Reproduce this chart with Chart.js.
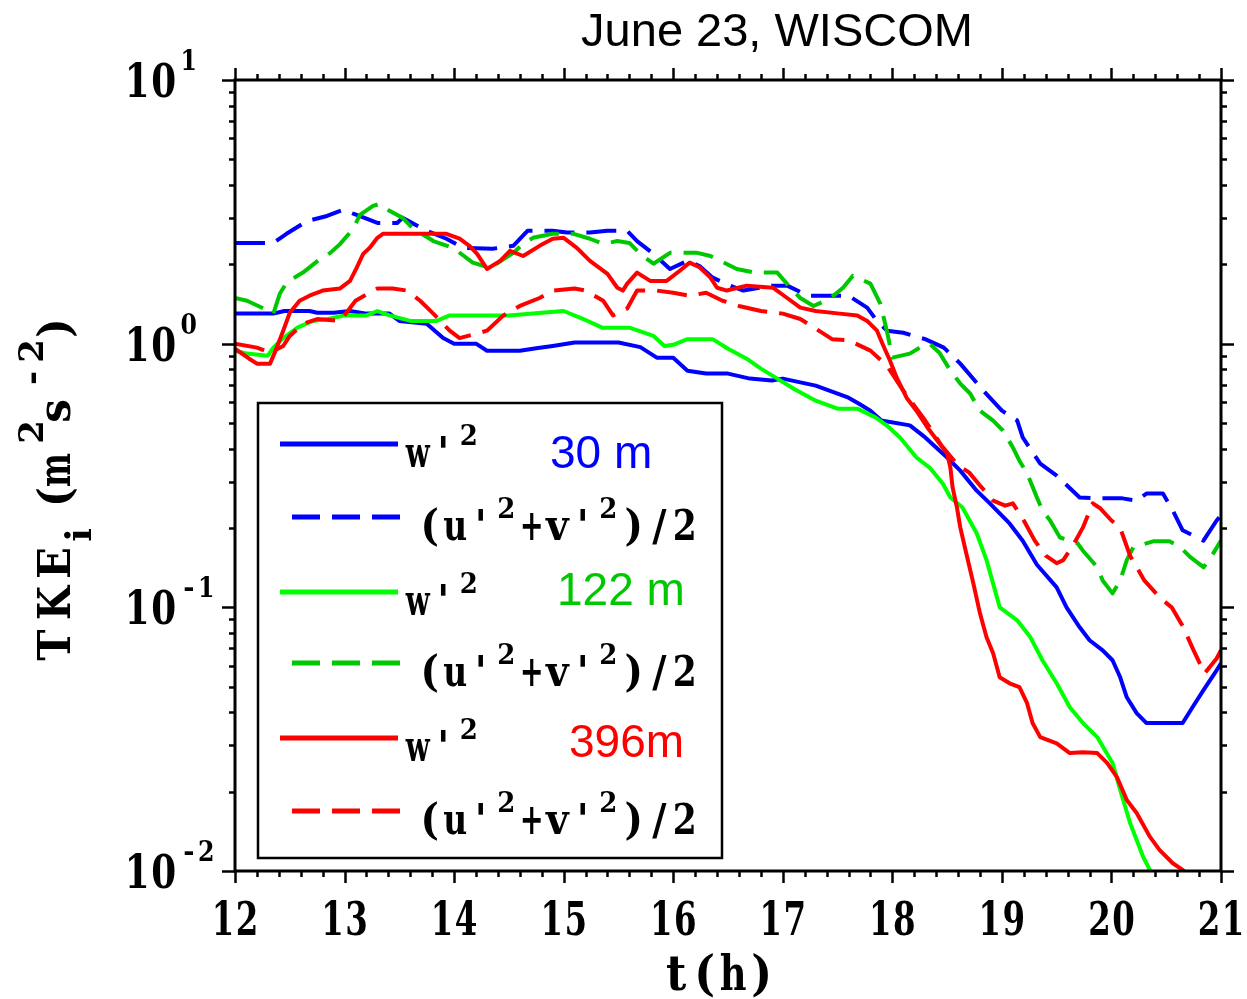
<!DOCTYPE html>
<html><head><meta charset="utf-8">
<script src="https://cdn.jsdelivr.net/npm/chart.js@4/dist/chart.umd.min.js"></script>
<style>html,body{margin:0;padding:0;background:#fff;}#wrap{width:1247px;height:999px;}</style>
</head><body><div id="wrap"><canvas id="c" width="1247" height="999"></canvas></div>
<script>
// ---- data (t in hours, TKE components in m^2 s^-2) ----
const t_w30 = [12.0,12.35,12.45,12.68,12.75,12.9,13.05,13.2,13.41,13.5,13.75,13.9,14.0,14.2,14.3,14.6,14.75,14.9,15.1,15.5,15.7,15.85,16.0,16.13,16.3,16.5,16.7,16.9,17.0,17.3,17.6,17.7,17.8,17.9,18.16,18.3,18.5,18.62,18.77,18.89,19.07,19.19,19.32,19.5,19.59,19.71,19.8,19.92,20.01,20.08,20.14,20.23,20.32,20.65,20.74,20.84,20.96,21.0];
const w30 = [1.30,1.30,1.33,1.33,1.31,1.31,1.33,1.30,1.30,1.22,1.19,1.05,1.0,1.0,0.94,0.94,0.96,0.98,1.01,1.01,0.97,0.885,0.885,0.79,0.77,0.77,0.737,0.725,0.737,0.693,0.624,0.59,0.557,0.511,0.49,0.441,0.370,0.330,0.277,0.248,0.208,0.179,0.145,0.119,0.1,0.084,0.075,0.0687,0.063,0.0543,0.0456,0.0397,0.0364,0.0364,0.0418,0.0485,0.0577,0.0614];

const t_uv30 = [12.0,12.35,12.47,12.66,12.84,12.99,13.08,13.2,13.3,13.48,13.53,13.75,13.93,14.08,14.35,14.54,14.67,14.9,15.03,15.24,15.4,15.58,15.67,15.82,15.97,16.13,16.24,16.36,16.52,16.64,16.9,17.04,17.23,17.46,17.6,17.77,17.86,17.95,18.1,18.3,18.47,18.62,18.83,19.0,19.14,19.19,19.35,19.5,19.71,19.87,20.1,20.23,20.32,20.47,20.56,20.65,20.84,20.96,21.0];
const uv30 = [2.41,2.41,2.61,2.92,3.05,3.22,3.11,2.98,2.87,2.87,3.0,2.68,2.50,2.31,2.29,2.35,2.68,2.68,2.64,2.64,2.68,2.68,2.45,2.19,1.92,2.06,1.97,1.78,1.66,1.59,1.66,1.66,1.52,1.52,1.52,1.37,1.22,1.12,1.10,1.04,0.966,0.84,0.664,0.557,0.511,0.441,0.351,0.316,0.261,0.259,0.259,0.254,0.27,0.27,0.233,0.196,0.179,0.2135,0.223];

const t_w122 = [12.0,12.11,12.3,12.35,12.44,12.57,12.71,12.85,13.0,13.2,13.3,13.41,13.6,13.84,13.96,14.2,14.5,14.8,15.0,15.18,15.35,15.6,15.82,15.92,16.0,16.13,16.36,16.5,16.67,16.8,16.95,17.1,17.3,17.5,17.68,17.85,17.95,18.07,18.22,18.34,18.46,18.53,18.64,18.77,18.86,18.92,18.98,19.14,19.26,19.37,19.5,19.62,19.74,19.87,20.01,20.08,20.17,20.29,20.35,20.42];
const w122 = [0.941,0.917,0.90,0.966,1.05,1.15,1.22,1.24,1.28,1.28,1.33,1.28,1.22,1.22,1.28,1.28,1.28,1.31,1.33,1.24,1.15,1.15,1.07,0.98,0.99,1.04,1.04,0.957,0.877,0.804,0.737,0.675,0.608,0.567,0.567,0.524,0.489,0.441,0.370,0.339,0.295,0.261,0.239,0.191,0.151,0.123,0.1,0.0893,0.077,0.063,0.0515,0.0418,0.0364,0.0322,0.0257,0.0203,0.0152,0.0113,0.0101,0.0085];

const t_uv122 = [12.0,12.11,12.26,12.35,12.41,12.47,12.57,12.62,12.78,12.87,12.96,13.08,13.14,13.26,13.32,13.41,13.53,13.62,13.81,13.99,14.17,14.33,14.54,14.63,14.72,14.9,15.09,15.24,15.36,15.49,15.6,15.72,15.82,15.97,16.22,16.34,16.58,16.75,16.95,17.07,17.16,17.28,17.43,17.55,17.64,17.8,17.89,17.95,18.0,18.16,18.25,18.34,18.43,18.53,18.62,18.71,18.8,18.92,19.01,19.1,19.16,19.23,19.32,19.37,19.44,19.53,19.69,19.74,19.87,19.92,20.01,20.08,20.14,20.2,20.38,20.53,20.63,20.72,20.84,20.9,21.0];
const uv122 = [1.49,1.455,1.36,1.30,1.55,1.70,1.81,1.86,2.10,2.21,2.39,2.73,3.08,3.33,3.39,3.19,3.0,2.75,2.45,2.31,2.03,1.94,2.21,2.39,2.52,2.61,2.61,2.50,2.39,2.45,2.41,2.15,2.01,2.21,2.21,2.15,1.92,1.86,1.86,1.63,1.49,1.39,1.48,1.63,1.81,1.69,1.42,1.12,0.885,0.917,0.966,1.0,0.924,0.79,0.706,0.647,0.557,0.511,0.468,0.404,0.360,0.322,0.261,0.233,0.2135,0.184,0.175,0.164,0.142,0.1265,0.113,0.1265,0.151,0.169,0.178,0.178,0.169,0.155,0.142,0.153,0.179];

const t_w396 = [12.0,12.13,12.2,12.32,12.37,12.44,12.5,12.59,12.68,12.8,12.96,13.05,13.11,13.17,13.23,13.3,13.35,13.69,13.93,14.05,14.14,14.21,14.3,14.42,14.51,14.63,14.78,14.9,15.0,15.12,15.24,15.4,15.49,15.54,15.58,15.67,15.79,15.94,16.06,16.15,16.24,16.34,16.4,16.49,16.67,16.91,17.04,17.16,17.3,17.52,17.68,17.77,17.86,17.91,17.98,18.04,18.13,18.22,18.32,18.41,18.5,18.53,18.55,18.59,18.62,18.68,18.74,18.8,18.86,18.92,18.98,19.07,19.16,19.23,19.28,19.35,19.5,19.62,19.74,19.87,19.96,20.05,20.14,20.23,20.35,20.44,20.56,20.65,20.75];
const w396 = [0.957,0.877,0.84,0.84,0.941,1.12,1.31,1.455,1.52,1.59,1.62,1.73,1.94,2.19,2.31,2.52,2.61,2.61,2.61,2.50,2.35,2.19,1.92,2.06,2.25,2.15,2.35,2.50,2.52,2.31,2.06,1.84,1.63,1.59,1.69,1.86,1.73,1.73,1.89,2.03,1.95,1.78,1.63,1.59,1.66,1.63,1.49,1.37,1.33,1.30,1.28,1.22,1.12,1.0,0.86,0.743,0.624,0.557,0.481,0.429,0.383,0.339,0.285,0.239,0.201,0.157,0.123,0.0949,0.077,0.067,0.0543,0.0515,0.0498,0.0433,0.0364,0.0322,0.0305,0.028,0.0282,0.028,0.0257,0.0227,0.0186,0.0166,0.0135,0.012,0.0107,0.0101,0.0092];

const t_uv396 = [12.0,12.2,12.32,12.44,12.5,12.62,12.75,12.96,13.1,13.3,13.44,13.57,13.69,13.81,13.96,14.05,14.2,14.3,14.45,14.6,14.78,14.9,15.1,15.2,15.36,15.45,15.58,15.67,15.85,16.0,16.15,16.3,16.45,16.6,16.8,17.0,17.16,17.3,17.45,17.6,17.8,17.95,18.1,18.3,18.45,18.6,18.7,18.8,18.92,19.03,19.1,19.2,19.3,19.4,19.5,19.56,19.65,19.74,19.83,19.9,20.0,20.08,20.17,20.3,20.45,20.55,20.65,20.75,20.85,20.96,21.0];
const uv396 = [1.0,0.966,0.924,0.98,1.07,1.19,1.24,1.22,1.455,1.62,1.62,1.59,1.455,1.30,1.12,1.05,1.09,1.12,1.28,1.39,1.49,1.59,1.62,1.59,1.455,1.28,1.36,1.59,1.59,1.56,1.52,1.56,1.455,1.39,1.33,1.30,1.24,1.14,1.04,1.03,0.941,0.825,0.664,0.511,0.41,0.345,0.325,0.29,0.254,0.243,0.248,0.2135,0.179,0.157,0.147,0.151,0.172,0.201,0.248,0.237,0.2135,0.2,0.157,0.1265,0.108,0.1,0.085,0.0687,0.0562,0.064,0.0687];

const xTickValues = [12,13,14,15,16,17,18,19,20,21];
const xTickLabels = ['12','13','14','15','16','17','18','19','20','21'];
const yTickValues = [10,1,0.1,0.01];
const yTickExps = ['1','0','-1','-2'];
const titleText = 'June 23, WISCOM';
const xTitle = 't(h)';
const heightLabels = ['30 m','122 m','396m'];

// ---- styling ----
const BLUE = '#0000ff', GREEN = '#00ff00', DGREEN = '#00c800', RED = '#ff0000';
const SERIF = '"DejaVu Serif", "Liberation Serif", serif';
const SANS = '"Liberation Sans", Arial, Helvetica, sans-serif';
const DASH = [30, 12];

function pts(t, v) { return t.map((x, i) => ({ x: x, y: v[i] })); }

function ds(label, t, v, color, dashed) {
  return { label, data: pts(t, v), borderColor: color, backgroundColor: color,
    borderWidth: 4, borderDash: dashed ? DASH : [], pointRadius: 0, tension: 0,
    fill: false, clip: 0, borderJoinStyle: 'round' };
}

function stext(ctx, s, x, y, font, sy, align, color) {
  ctx.save();
  ctx.fillStyle = color || '#000';
  ctx.font = font; ctx.textAlign = align; ctx.textBaseline = 'alphabetic';
  ctx.translate(x, y); ctx.scale(1, sy);
  ctx.fillText(s, 0, 0);
  ctx.restore();
}

// draw one glyph centred at cx, compressed to maxW if wider
function glyph(ctx, ch, cx, base, size, sy, maxW) {
  ctx.save();
  ctx.fillStyle = '#000';
  ctx.font = `bold ${size}px ${SERIF}`;
  ctx.textAlign = 'center'; ctx.textBaseline = 'alphabetic';
  const w = ctx.measureText(ch).width;
  const sx = w > maxW ? maxW / w : 1;
  ctx.translate(cx, base);
  ctx.scale(sx, sy);
  ctx.fillText(ch, 0, 0);
  ctx.restore();
}

// one glyph per fixed-width cell (monospaced look); tokens: [char, kind] kind 0 normal, 1 sup, -1 sub
function cells(ctx, tokens, x0, base, cell, o) {
  tokens.forEach((tk, i) => {
    const ch = tk[0], k = tk[1];
    if (ch === ' ') return;
    const sz = k === 0 ? o.size : o.supSize;
    const dy = k === 1 ? -o.supRise : (k === -1 ? o.subDrop : 0);
    glyph(ctx, ch, x0 + cell * i + cell / 2, base + dy, sz, o.sy, (k === 0 ? cell : cell * 0.8) * 0.94);
  });
}
function strTokens(s) { return s.split('').map(c => [c, 0]); }

const W2 = [['w',0],["'",0],['2',1]];
const UV2 = [['(',0],['u',0],["'",0],['2',1],['+',0],['v',0],["'",0],['2',1],[')',0],['/',0],['2',0]];
// y-axis title glyphs: [char, kind, offset along the text direction from the first glyph]
const YT = [['T',0,0],['K',0,42],['E',0,82],['i',-1,110],['(',0,148],['m',0,175],['2',1,213],['s',0,234],['-',1,267],['2',1,294],[')',0,317]];

function seg(ctx, x1, y1, x2, y2) { ctx.beginPath(); ctx.moveTo(x1, y1); ctx.lineTo(x2, y2); ctx.stroke(); }

const decor = {
  id: 'decor',
  afterDatasetsDraw(chart) {
    const ctx = chart.ctx, a = chart.chartArea, xs = chart.scales.x, ys = chart.scales.y;
    ctx.save();
    ctx.strokeStyle = '#000'; ctx.fillStyle = '#000'; ctx.lineCap = 'butt';
    // frame
    ctx.lineWidth = 3;
    ctx.strokeRect(a.left, a.top, a.right - a.left, a.bottom - a.top);
    // x ticks (major each hour, minor each 0.2 h), outside, bottom and top
    ctx.lineWidth = 2.5;
    for (let k = 0; k <= 45; k++) {
      const v = 12 + k * 0.2;
      const px = Math.round(xs.getPixelForValue(v)) + 0.5;
      const L = (k % 5 === 0) ? 12 : 6;
      seg(ctx, px, a.bottom, px, a.bottom + L);
      seg(ctx, px, a.top, px, a.top - L);
    }
    // y ticks (log)
    for (let e = -2; e <= 1; e++) {
      for (let m = 1; m <= 9; m++) {
        const v = m * Math.pow(10, e);
        if (v > 10.0001) break;
        const py = Math.round(ys.getPixelForValue(v)) + 0.5;
        const L = (m === 1) ? 13 : 6;
        seg(ctx, a.left, py, a.left - L, py);
        seg(ctx, a.right, py, a.right + L, py);
      }
    }
    // x tick labels
    const big = { size: 41, supSize: 26, sy: 1.15, supRise: 0, subDrop: 0 };
    xTickValues.forEach((v, i) => {
      const px = xs.getPixelForValue(v);
      cells(ctx, strTokens(xTickLabels[i]), px - 24, 935, 24, big);
    });
    // y tick labels 10^e
    const yl = { size: 42, supSize: 28, sy: 1.1, supRise: 0, subDrop: 0 };
    const ex = { size: 27, supSize: 27, sy: 1.05, supRise: 0, subDrop: 0 };
    yTickValues.forEach((v, i) => {
      const py = ys.getPixelForValue(v);
      cells(ctx, strTokens('10'), 124, py + 17, 26.5, yl);
      cells(ctx, strTokens(yTickExps[i]), 180, py - 10, 17.5, ex);
    });
    // x title
    cells(ctx, strTokens(xTitle), 662, 990, 28.5, { size: 44, supSize: 30, sy: 1.1, supRise: 0, subDrop: 0 });
    // y title (rotated, reads bottom to top)
    ctx.save();
    ctx.translate(70, 645);
    ctx.rotate(-Math.PI / 2);
    YT.forEach(tk => {
      const ch = tk[0], k = tk[1], off = tk[2];
      if (k === 0) glyph(ctx, ch, off, 0, 42, 1.05, 34);
      else if (k === 1) glyph(ctx, ch, off, -27, 34, 1.0, 26);
      else glyph(ctx, ch, off, 21, 36, 1.0, 22);
    });
    ctx.restore();
    // chart title
    stext(ctx, titleText, 777, 46, `47px ${SANS}`, 1.0, 'center');

    // legend
    const lx = 258, ly = 403, lw = 464, lh = 455;
    ctx.fillStyle = '#fff';
    ctx.fillRect(lx, ly, lw, lh);
    ctx.fillStyle = '#000';
    ctx.lineWidth = 2.5;
    ctx.strokeRect(lx, ly, lw, lh);
    const rows = [
      { c: BLUE, d: false, y: 444, lab: W2, tag: 0, tc: BLUE, tx: 550, ty: 468 },
      { c: BLUE, d: true, y: 517, lab: UV2 },
      { c: GREEN, d: false, y: 592, lab: W2, tag: 1, tc: DGREEN, tx: 557, ty: 605 },
      { c: DGREEN, d: true, y: 663, lab: UV2 },
      { c: RED, d: false, y: 738, lab: W2, tag: 2, tc: RED, tx: 569, ty: 757 },
      { c: RED, d: true, y: 811, lab: UV2 }
    ];
    const lt = { size: 39, supSize: 26, sy: 1.08, supRise: 22, subDrop: 0 };
    rows.forEach(r => {
      ctx.save();
      ctx.strokeStyle = r.c; ctx.lineWidth = 5;
      if (r.d) { ctx.setLineDash([28, 12]); seg(ctx, 292, r.y, 400, r.y); }
      else { seg(ctx, 280, r.y, 398, r.y); }
      ctx.restore();
      if (r.d) cells(ctx, r.lab, 417, r.y + 23, 25.5, lt);
      else cells(ctx, r.lab, 405, r.y + 23, 25.5, lt);
      if (r.tag !== undefined) {
        stext(ctx, heightLabels[r.tag], r.tx, r.ty, `46px ${SANS}`, 1.0, 'left', r.tc);
      }
    });
    ctx.restore();
  }
};

new Chart(document.getElementById('c'), {
  type: 'line',
  data: {
    datasets: [
      ds('w\'² 396 m', t_w396, w396, RED, false),
      ds('(u\'²+v\'²)/2 396 m', t_uv396, uv396, RED, true),
      ds('w\'² 122 m', t_w122, w122, GREEN, false),
      ds('(u\'²+v\'²)/2 122 m', t_uv122, uv122, DGREEN, true),
      ds('w\'² 30 m', t_w30, w30, BLUE, false),
      ds('(u\'²+v\'²)/2 30 m', t_uv30, uv30, BLUE, true)
    ]
  },
  options: {
    responsive: false, animation: false, devicePixelRatio: 1,
    layout: { padding: { left: 235, right: 26, top: 80, bottom: 128 } },
    plugins: { legend: { display: false }, tooltip: { enabled: false }, title: { display: false } },
    scales: {
      x: { type: 'linear', min: 12, max: 21, display: false },
      y: { type: 'logarithmic', min: 0.01, max: 10, display: false }
    }
  },
  plugins: [decor]
});
</script></body></html>
